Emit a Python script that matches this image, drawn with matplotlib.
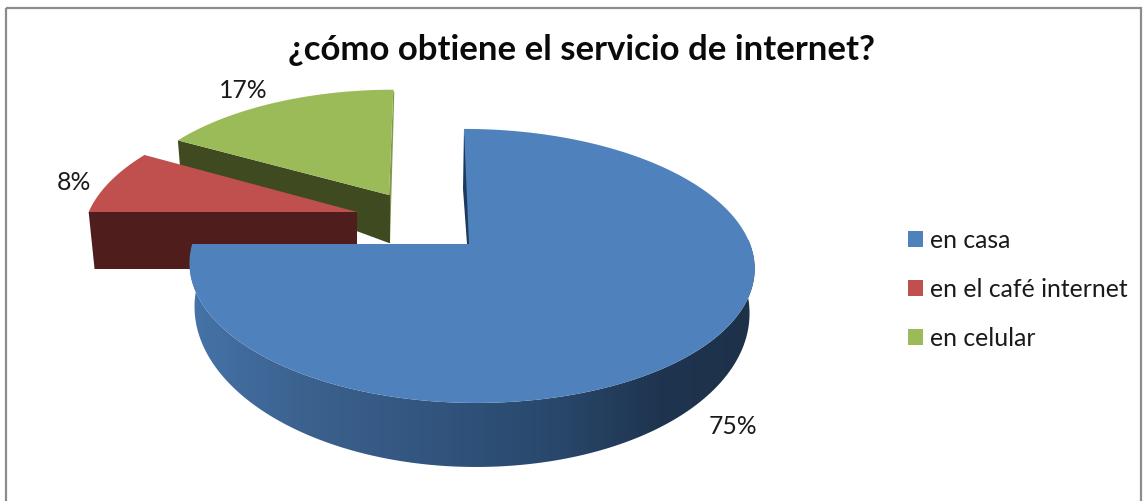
#!/usr/bin/env python3
"""Exploded 3D-look pie: how people get their internet service."""

import numpy as np
import matplotlib
matplotlib.use("Agg")
import matplotlib.pyplot as plt
from matplotlib.patches import Polygon, Rectangle

plt.rcParams.update({
    "font.family": ["Lato", "DejaVu Sans"],
})

TITLE = "¿cómo obtiene el servicio de internet?"
categories = ["en casa", "en el café internet", "en celular"]
values = [75, 8, 17]
pct_labels = ["75%", "8%", "17%"]

top_colors = ["#4f81bd", "#c0504d", "#9bbb59"]
wall_colors = [None, "#4f1e1c", "#3f4a21"]

# projection, in pixels of the 1143x501 picture
RX, RY, PERSP = 281.0, 133.5, 0.16
# per slice: tip x, tip y, scale, shear, wall depth at tip, depth slope, wall squeeze
SLICE_GEOM = [
    (469, 244, 1.000, 5.8, 41, 0.145, 0.018),
    (357, 212, 0.955, -13, 57, 0.0, 0.022),
    (389, 195, 0.915, -5, 48, 0.41, 0.010),
]
# horizontal stretch of the left half of each slice
LEFT_FACTOR = [0.985, 1.0, 1.02]
LABEL_POS = [(733, 426), (74, 182), (243, 90)]
SIDE_X = [190, 300, 420, 560, 660, 755]
SIDE_COL = ["#4673a9", "#3c628f", "#335680", "#28476a", "#1f344f", "#1d3149"]


def hex2rgb(c):
    return np.array(matplotlib.colors.to_rgb(c))


def project(theta, geom, left=1.0):
    tx, ty, s, shear = geom[:4]
    u, v = np.sin(theta), -np.cos(theta)
    u = np.where(u < 0, u * left, u)
    den = 1 - PERSP * v
    return tx + (s * RX * u + shear * v) / den, ty + s * RY * v / den


def drop(x, y, geom):
    tx, ty = geom[:2]
    d0, slope, squeeze = geom[4:]
    return x + (tx - x) * squeeze, y + d0 + (y - ty) * slope


fig = plt.figure(figsize=(11.43, 5.01), dpi=100)
ax = fig.add_axes([0, 0, 1, 1])
ax.axis("off")

ax.add_patch(Rectangle((6, 8), 1134.5, 500, fill=False, ec="#8c8c8c", lw=1.6))

# slice angles, clockwise from 12 o'clock
edges = np.radians(np.cumsum([0] + values) * 3.6)
handles = [None] * 3

for i in [2, 1]:
    geom = SLICE_GEOM[i]
    a0, a1 = edges[i], edges[i + 1]
    tx, ty = geom[:2]
    # flat cut face along the slice's first edge
    cx, cy = project(np.array([a0]), geom, LEFT_FACTOR[i])
    bx, by = drop(cx[0], cy[0], geom)
    tbx, tby = drop(tx, ty, geom)
    ax.fill([tx, cx[0], bx, tbx], [ty, cy[0], by, tby], color=wall_colors[i], lw=0)
    if i == 2:
        # thin lit sliver on the right edge of the green slice
        ox, oy = project(np.array([a1]), geom)
        ax.fill([tx, ox[0], ox[0] + 1, tx + 1], [ty, oy[0], oy[0] + 3, ty + 48],
                color="#7f9a49", lw=0)
        ax.fill([tx, tx + 1, tx + 1, tx], [ty, ty, ty + 48, ty + 48],
                color=wall_colors[i], lw=0)
    xs, ys = project(np.linspace(a0, a1, 160), geom, LEFT_FACTOR[i])
    handles[i] = ax.fill(np.r_[tx, xs], np.r_[ty, ys], color=top_colors[i], lw=0,
                         label=categories[i])[0]

# blue slice: thin dark face behind the 12 o'clock edge
geom = SLICE_GEOM[0]
tx, ty = geom[:2]
ox, oy = project(np.array([edges[0]]), geom)
ax.fill([ox[0], ox[0] - 1, tx - 2, tx, tx],
        [oy[0], oy[0] + 60, ty, ty, oy[0] + 40],
        color="#1c3a5e", lw=0)

# blue outer wall, shaded left to right through a clipped gradient
thetas = np.radians(np.linspace(70, 270, 300))
xs, ys = project(thetas, geom, LEFT_FACTOR[0])
bxs, bys = drop(xs, ys, geom)
wall = Polygon(np.c_[np.r_[xs, bxs[::-1]], np.r_[ys, bys[::-1]]], closed=True,
               fc="none", ec="none")
ax.add_patch(wall)
rgb = np.array([hex2rgb(c) for c in SIDE_COL])
grad_x = np.arange(180, 765)
grad = np.stack([np.interp(grad_x, SIDE_X, rgb[:, k]) for k in range(3)], axis=-1)[None, :, :]
img = ax.imshow(grad, extent=(180, 765, 480, 240), aspect="auto", interpolation="bilinear")
img.set_clip_path(wall)

xs, ys = project(np.linspace(edges[0], edges[1], 400), geom, LEFT_FACTOR[0])
handles[0] = ax.fill(np.r_[tx, xs], np.r_[ty, ys], color=top_colors[0], lw=0,
                     label=categories[0])[0]

for lab, (lx, ly) in zip(pct_labels, LABEL_POS):
    ax.text(lx, ly, lab, ha="center", va="center", fontsize=17.8, color="#1a1a1a")

ax.text(582, 50, TITLE, ha="center", va="center", fontsize=25,
        fontweight="bold", color="#0a0a0a")

ax.set_xlim(0, 1143)
ax.set_ylim(501, 0)

ax.legend(handles=handles, loc="center left", bbox_to_anchor=(908, 289.5),
          bbox_transform=ax.transData, frameon=False, fontsize=17.8,
          handlelength=0.6, handleheight=0.6, handletextpad=0.28,
          labelspacing=1.05, borderpad=0, borderaxespad=0, labelcolor="#1a1a1a")

fig.savefig("out.png", dpi=100)
plt.close(fig)
